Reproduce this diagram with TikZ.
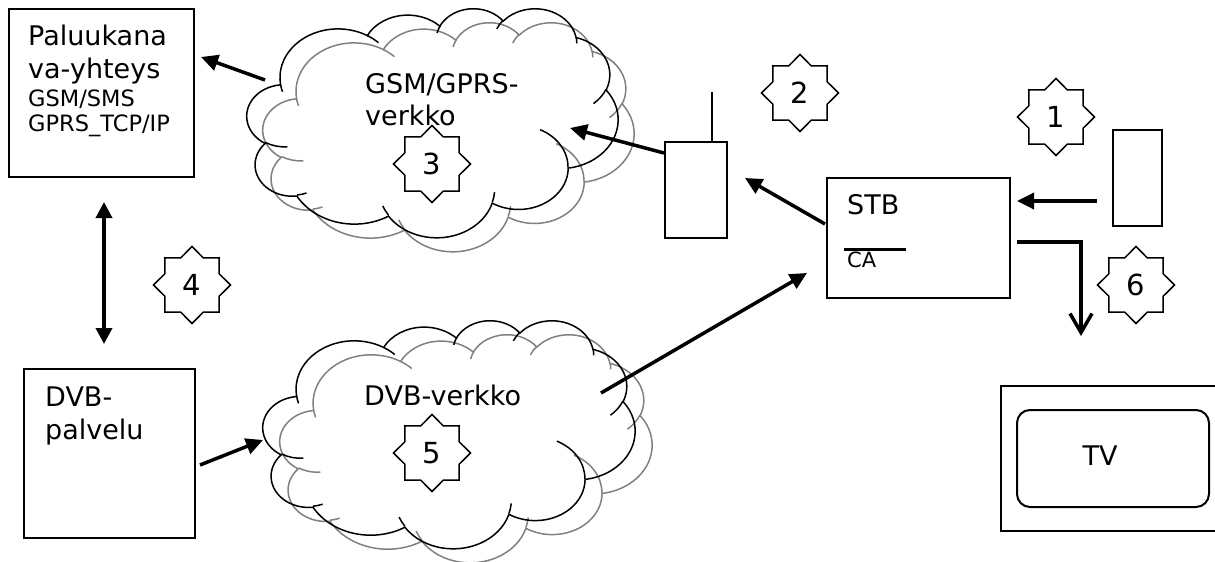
\documentclass[tikz,border=0pt]{standalone}
\usepackage{fontspec}
\setmainfont{DejaVu Sans}
\usetikzlibrary{shapes.geometric,arrows.meta,calc}

\definecolor{cloudgray}{RGB}{128,128,128}

\tikzset{
  % cloud outline built from elliptic arcs (angles are true angles, converted to parametric ones)
  oa/.style n args={4}{x radius=#1,y radius=#2,start angle={pa(#1,#2,#3)},delta angle={pd(#1,#2,#3,#4)}},
  cloudline/.style={line width=1.5pt},
  wolk/.pic={
    \draw[cloudline] (3.9,14.37)
      arc[oa={6.753}{9.19}{-190.48748}{123.78053}]
      arc[oa={5.333}{7.267}{-144.10238}{89.94523}]
      arc[oa={4.365}{5.945}{-145.80792}{99.72302}]
      arc[oa={4.857}{6.595}{-130.98607}{117.24173}]
      arc[oa={5.333}{7.273}{-78.70888}{109.02692}]
      arc[oa={6.775}{9.22}{-46.26725}{130.269}]
      arc[oa={5.785}{7.867}{0.62502}{114.03333}]
      arc[oa={6.752}{9.215}{22.4516}{115.17255}]
      arc[oa={7.72}{10.543}{66.24263}{75.71102}]
      arc[oa={4.36}{5.918}{-274.94208}{146.73557}]
      arc[oa={4.345}{5.945}{-246.8285}{152.51885}]
      -- cycle;
    \draw[cloudline]
      (4.693,26.177) arc[oa={4.345}{5.945}{86.742}{26.4295}]
      (6.928,34.899) arc[oa={4.36}{5.918}{73.61047}{11.44747}]
      (16.478,39.09) arc[oa={6.752}{9.215}{137.62415}{14.0811}]
      (28.827,34.751) arc[oa={6.752}{9.215}{6.45327}{15.99835}]
      (34.129,22.954) arc[oa={5.785}{7.867}{-70.29235}{70.91737}]
      (41.798,15.354) arc[oa={5.333}{7.273}{30.31803}{27.7515}]
      (38.324,5.426) arc[oa={4.857}{6.595}{-13.74433}{14.8589}]
      (29.078,3.952) arc[oa={4.857}{6.595}{-149.18145}{18.19537}]
      (22.141,4.72) arc[oa={4.365}{5.945}{-163.49427}{17.68635}]
      (14,5.192) arc[oa={6.753}{9.19}{-66.70695}{12.31935}]
      (4.127,15.789) arc[oa={6.753}{9.19}{157.65435}{11.85817}];
  },
  box/.style={draw, line width=2pt, rectangle, inner sep=0pt, anchor=north west},
  big/.style={font=\fontsize{27pt}{32pt}\selectfont, inner sep=0pt, anchor=base west},
  small/.style={font=\fontsize{22.5pt}{26pt}\selectfont, inner sep=0pt, anchor=base west},
  starbox/.style={draw, line width=1.5pt, star, star points=8, star point ratio=1.31,
    minimum size=77pt, inner sep=0pt, font=\fontsize{29pt}{33pt}\selectfont},
  arr/.style={line width=3.5pt, -{Triangle[length=17pt,width=16pt]}},
  darr/.style={line width=3.5pt, {Triangle[length=16pt,width=16pt]}-{Triangle[length=16pt,width=16pt]}},
  barb/.style={line width=3.5pt, -{Straight Barb[length=19pt,width=22pt]}}
}

\begin{document}
\begin{tikzpicture}[x=1pt,y=-1pt,
  declare function={pa(\w,\h,\a)=atan2(\w*sin(\a),\h*cos(\a));
                    pd(\w,\h,\a,\s)=mod(pa(\w,\h,\a+\s)-pa(\w,\h,\a)+720,360);}]
\useasboundingbox (0,0) rectangle (1215,562);

% clouds: grey shadow copy first, black outline on top
\begin{scope}[shift={(263pt,-22pt)}, x=8.588pt, y=-5.301pt, color=cloudgray]
  \pic at (0,0) {wolk};
\end{scope}
\begin{scope}[shift={(247pt,-8pt)}, x=8.588pt, y=-5.301pt, color=black]
  \pic at (0,0) {wolk};
\end{scope}
\begin{scope}[shift={(280pt,-334pt)}, x=8.611pt, y=-5.278pt, color=cloudgray]
  \pic at (0,0) {wolk};
\end{scope}
\begin{scope}[shift={(263pt,-320pt)}, x=8.611pt, y=-5.278pt, color=black]
  \pic at (0,0) {wolk};
\end{scope}

% boxes
\node[box, minimum width=185pt, minimum height=168pt] (pal) at (8,8) {};
\node[box, minimum width=171pt, minimum height=169pt] (dvb) at (23,368) {};
\node[box, minimum width=62pt, minimum height=96pt] (ant) at (664,141) {};
\node[box, minimum width=183pt, minimum height=120pt] (stb) at (826,177) {};
\node[box, minimum width=49pt, minimum height=96pt] (rem) at (1112,129) {};
\node[box, minimum width=230pt, minimum height=145pt] (tv) at (1000,385) {};
\node[draw, line width=2pt, rounded corners=13pt, minimum width=192pt, minimum height=97pt,
      inner sep=0pt, anchor=north west] (screen) at (1016,409) {};

% antenna
\coordinate (antTop) at (712,92);
\draw[line width=1.5pt] (antTop) -- (antTop |- ant.north);

% texts
\node[big] (t1) at (28,45) {Paluukana};
\node[big] (t2) at (28,78) {va-yhteys};
\node[small] (t3) at (28,106) {GSM/SMS};
\node[small] (t4) at (28,131) {GPRS\_TCP/IP};
\node[big] (t5) at (45,406) {DVB-};
\node[big] (t6) at (45,439) {palvelu};
\node[big] (t7) at (365,93) {GSM/GPRS-};
\node[big] (t8) at (365,125) {verkko};
\node[big] (t9) at (364,405) {DVB-verkko};
\node[big] (t10) at (847,214) {STB};
\node[font=\fontsize{21pt}{25pt}\selectfont, inner sep=0pt, anchor=base west] (t11) at (847,267) {CA};
\node[big, anchor=base] (t12) at (1100,465) {TV};
\coordinate (caL) at (844,249);
\coordinate (caR) at (906,249);
\draw[line width=3pt] (caL) -- (caR);

% numbered stars
\node[starbox] (s1) at (1056,117) {1};
\node[starbox] (s2) at (800,93) {2};
\node[starbox] (s3) at (432,164) {3};
\node[starbox] (s4) at (192,285) {4};
\node[starbox] (s5) at (432,453) {5};
\node[starbox] (s6) at (1136,285) {6};

% connectors
\coordinate (gsmOut) at (265,80);
\coordinate (palIn) at (201,57);
\draw[arr] (gsmOut) -- (palIn);

\coordinate (palDn) at (104,202);
\coordinate (dvbUp) at (104,344);
\draw[darr] (palDn) -- (dvbUp);

\coordinate (dvbOut) at (200,465);
\coordinate (dcloudIn) at (263,440);
\draw[arr] (dvbOut) -- (dcloudIn);

\coordinate (antOut) at (664,153);
\coordinate (gcloudIn) at (570,128);
\draw[arr] (antOut) -- (gcloudIn);

\coordinate (stbOut) at (825,224);
\coordinate (antIn) at (745,178);
\draw[arr] (stbOut) -- (antIn);

\coordinate (dcloudOut) at (601,393);
\coordinate (stbIn) at (807,273);
\draw[arr] (dcloudOut) -- (stbIn);

\coordinate (remOut) at (1097,201);
\coordinate (stbRin) at (1017,201);
\draw[arr] (remOut) -- (stbRin);

\coordinate (stbTv) at (1017,242);
\coordinate (tvIn) at (1081,336);
\draw[barb] (stbTv) -| (tvIn);
\end{tikzpicture}
\end{document}
